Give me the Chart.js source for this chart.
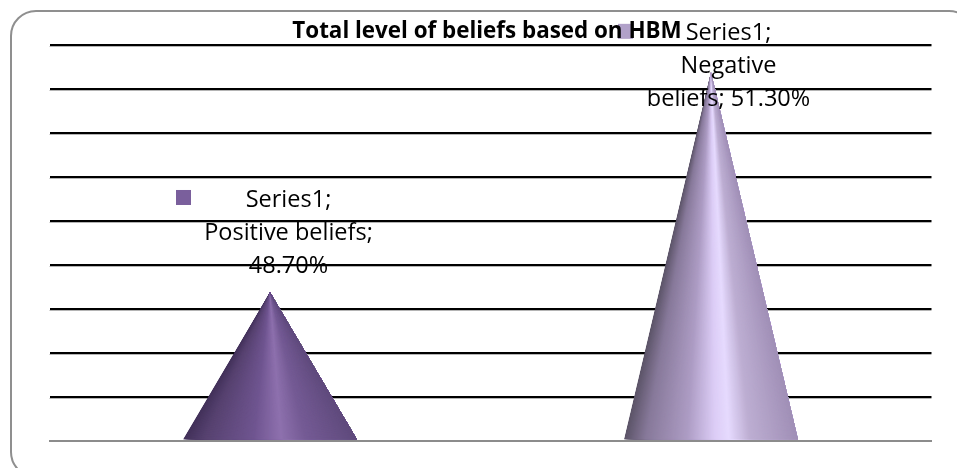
<!DOCTYPE html>
<html>
<head>
<meta charset="utf-8">
<style>
  html, body { margin: 0; padding: 0; background: #fff; }
  #wrap { position: relative; width: 957px; height: 468px; overflow: hidden; }
  #frame { position: absolute; left: 10px; top: 10px; width: 961px; height: 464px; border: 2px solid #8f8f8f; border-radius: 26px; }
  canvas { position: absolute; left: 0; top: 0; }
</style>
<script src="https://cdn.jsdelivr.net/npm/chart.js@4"></script>
</head>
<body>
<div id="wrap">
  <div id="frame"></div>
  <canvas id="cone-chart" width="957" height="468"></canvas>
</div>
<script>
const categories = ['Positive beliefs', 'Negative beliefs'];
const values = [48.7, 51.3];
const seriesName = 'Series1';
const labelLines = [
    ['Series1;', 'Positive beliefs;', '48.70%'],
    ['Series1;', 'Negative', 'beliefs; 51.30%']
];
const chartTitle = 'Total level of beliefs based on HBM';

// the value axis is hidden in the picture, so this range is fitted to the gridlines
const axisMin = 46.946;
const axisMax = 51.617;
const axisLines = 10;

const coneStops = [
    [[0, '#42315a'], [0.12, '#574270'], [0.4, '#6f5590'], [0.56, '#8e71ae'], [0.7, '#755b95'], [1, '#5f4a7c']],
    [[0, '#5c5468'], [0.12, '#87799a'], [0.36, '#ad9cc4'], [0.52, '#dccdf6'], [0.6, '#e6dafe'], [0.72, '#bdaed2'], [1, '#a08fb6']]
];
const keyColors = ['#7a5f9c', '#b1a1c9'];
// label anchor relative to each cone tip (middle text line), key relative to the anchor
const labelOffsets = [[18.5, -59], [17.5, -6]];
const keyOffsets = [[-112.5, -43], [-110.5, -42]];

function hexToRgb(hex) {
    return [1, 3, 5].map(i => parseInt(hex.substr(i, 2), 16));
}

function colorAt(stops, t) {
    for (let i = 1; i < stops.length; i++) {
        if (t <= stops[i][0]) {
            const a = stops[i - 1], b = stops[i];
            const f = (t - a[0]) / (b[0] - a[0]);
            const ca = hexToRgb(a[1]), cb = hexToRgb(b[1]);
            return 'rgb(' + ca.map((c, k) => Math.round(c + (cb[k] - c) * f)).join(',') + ')';
        }
    }
    return stops[stops.length - 1][1];
}

// draws each bar as a cone, thin wedges from tip to base
const conePlugin = {
    id: 'cones',
    beforeDraw(chart) {
        // legend keys sit under the title text
        const ctx = chart.ctx;
        chart.getDatasetMeta(0).data.forEach((bar, i) => {
            ctx.fillStyle = keyColors[i];
            ctx.fillRect(bar.x + labelOffsets[i][0] + keyOffsets[i][0], bar.y + labelOffsets[i][1] + keyOffsets[i][1], 15, 15);
        });
    },
    beforeDatasetsDraw(chart) {
        // soft grey edge under each gridline
        const ctx = chart.ctx;
        const area = chart.chartArea;
        ctx.fillStyle = '#b4b4b4';
        chart.scales.y.ticks.forEach((tick, i) => {
            if (i === 0) return;
            const y = Math.round(chart.scales.y.getPixelForValue(tick.value));
            ctx.fillRect(area.left, y + 1, area.right - area.left, 1);
        });
    },
    afterDatasetsDraw(chart) {
        const ctx = chart.ctx;
        chart.getDatasetMeta(0).data.forEach((bar, i) => {
            const half = bar.width / 2;
            const left = bar.x - half;
            ctx.save();
            ctx.beginPath();
            ctx.moveTo(bar.x, bar.y);
            ctx.lineTo(bar.x + half, bar.base);
            ctx.lineTo(left, bar.base);
            ctx.closePath();
            ctx.clip();
            for (let px = 0; px < bar.width; px++) {
                ctx.fillStyle = colorAt(coneStops[i], px / bar.width);
                ctx.beginPath();
                ctx.moveTo(bar.x, bar.y);
                ctx.lineTo(left + px, bar.base);
                ctx.lineTo(bar.x + half, bar.base);
                ctx.closePath();
                ctx.fill();
            }
            ctx.restore();
        });
    },
    afterDraw(chart) {
        const ctx = chart.ctx;
        chart.getDatasetMeta(0).data.forEach((bar, i) => {
            const cx = bar.x + labelOffsets[i][0];
            const cy = bar.y + labelOffsets[i][1];
            ctx.fillStyle = '#000';
            ctx.font = '23.5px "Open Sans"';
            ctx.textAlign = 'center';
            ctx.textBaseline = 'middle';
            labelLines[i].forEach((line, n) => {
                ctx.fillText(line, cx, cy + (n - 1) * 33);
            });
        });
    }
};

new Chart(document.getElementById('cone-chart').getContext('2d'), {
    type: 'bar',
    data: {
        labels: categories,
        datasets: [{
            label: seriesName,
            data: values,
            base: axisMin,
            backgroundColor: 'rgba(0,0,0,0)',
            barPercentage: 0.395,
            categoryPercentage: 1
        }]
    },
    plugins: [conePlugin],
    options: {
        responsive: false,
        animation: false,
        layout: { padding: { left: 42.5, right: 25.5, top: 20, bottom: 27.5 } },
        plugins: {
            legend: { display: false },
            tooltip: { enabled: false },
            title: {
                display: true,
                text: chartTitle,
                color: '#000',
                font: { family: 'Open Sans', size: 22.4, weight: 'bold', lineHeight: 1 },
                padding: { top: 0, bottom: 2.6 }
            }
        },
        scales: {
            x: {
                ticks: { display: false },
                grid: { display: false, drawTicks: false },
                border: { display: true, color: '#8c8c8c', width: 2 }
            },
            y: {
                min: axisMin,
                max: axisMax,
                ticks: { display: false, count: axisLines },
                grid: {
                    drawTicks: false,
                    lineWidth: 2,
                    color: c => c.index === 0 ? '#8c8c8c' : '#000'
                },
                border: { display: false },
                afterFit(scale) { scale.width = 7; }
            }
        }
    }
});
</script>
</body>
</html>
